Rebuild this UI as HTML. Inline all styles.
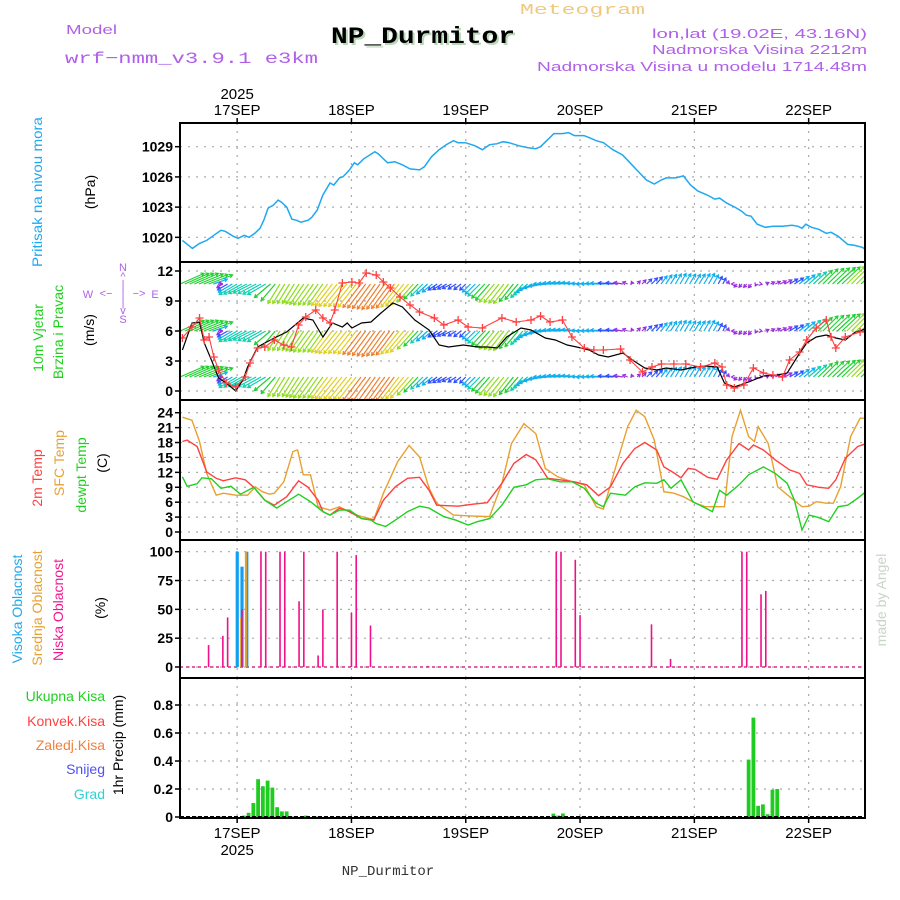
<!DOCTYPE html>
<html><head><meta charset="utf-8"><style>
html,body{margin:0;padding:0;background:#fff;}
svg{display:block;font-family:"Liberation Sans",sans-serif;}
</style></head><body>
<svg id="chart" width="900" height="900" viewBox="0 0 900 900" xmlns="http://www.w3.org/2000/svg">
<g>
<text x="520" y="14" font-size="15" fill="#f0c880" textLength="125" lengthAdjust="spacingAndGlyphs" font-family="Liberation Mono, monospace">Meteogram</text>
<text x="66" y="34" font-size="13" fill="#b060e8" textLength="51" lengthAdjust="spacingAndGlyphs">Model</text>
<text x="65" y="63" font-size="16" fill="#b060e8" textLength="253" lengthAdjust="spacingAndGlyphs" font-family="Liberation Mono, monospace">wrf−nmm_v3.9.1 e3km</text>
<text x="333" y="45" font-size="23" font-weight="bold" fill="#b8d8b8" font-family="Liberation Mono, monospace" textLength="184" lengthAdjust="spacingAndGlyphs">NP_Durmitor</text>
<text x="331" y="43" font-size="23" font-weight="bold" fill="#000" font-family="Liberation Mono, monospace" textLength="184" lengthAdjust="spacingAndGlyphs">NP_Durmitor</text>
<text x="867" y="38" font-size="13" fill="#b060e8" text-anchor="end" textLength="215" lengthAdjust="spacingAndGlyphs">lon,lat (19.02E, 43.16N)</text>
<text x="867" y="54" font-size="13" fill="#b060e8" text-anchor="end" textLength="215" lengthAdjust="spacingAndGlyphs">Nadmorska Visina 2212m</text>
<text x="867" y="71" font-size="13" fill="#b060e8" text-anchor="end" textLength="330" lengthAdjust="spacingAndGlyphs">Nadmorska Visina u modelu 1714.48m</text>
</g>
<g font-size="14">
<text transform="translate(42,192) rotate(-90)" text-anchor="middle" fill="#20a8f0" textLength="150" lengthAdjust="spacingAndGlyphs">Pritisak na nivou mora</text>
<text transform="translate(95,192) rotate(-90)" text-anchor="middle" fill="#000">(hPa)</text>
<text transform="translate(43,338) rotate(-90)" text-anchor="middle" fill="#20d020">10m Vjetar</text>
<text transform="translate(63,332) rotate(-90)" text-anchor="middle" fill="#20d020">Brzina i Pravac</text>
<text transform="translate(94,330) rotate(-90)" text-anchor="middle" fill="#000">(m/s)</text>
<g fill="#b060e8" font-size="11" text-anchor="middle">
<text x="123" y="271">N</text><text x="123" y="280">^</text><text x="123" y="288">|</text>
<text x="88" y="298">W</text><text x="106" y="297">&lt;−</text><text x="123" y="297">|</text><text x="139" y="297">−&gt;</text><text x="155" y="298">E</text>
<text x="123" y="306">|</text><text x="123" y="314">v</text><text x="123" y="323">S</text>
</g>
<text transform="translate(42,478) rotate(-90)" text-anchor="middle" fill="#ff4040">2m Temp</text>
<text transform="translate(64,463) rotate(-90)" text-anchor="middle" fill="#e8a030">SFC Temp</text>
<text transform="translate(86,475) rotate(-90)" text-anchor="middle" fill="#20d020">dewpt Temp</text>
<text transform="translate(107,463) rotate(-90)" text-anchor="middle" fill="#000">(C)</text>
<text transform="translate(22,609) rotate(-90)" text-anchor="middle" fill="#20a8f0">Visoka Oblacnost</text>
<text transform="translate(42,608) rotate(-90)" text-anchor="middle" fill="#e8a030">Srednja Oblacnost</text>
<text transform="translate(63,610) rotate(-90)" text-anchor="middle" fill="#f01890">Niska Oblacnost</text>
<text transform="translate(105,608) rotate(-90)" text-anchor="middle" fill="#000">(%)</text>
<text x="105" y="701" text-anchor="end" fill="#20d020">Ukupna  Kisa</text>
<text x="105" y="726" text-anchor="end" fill="#ff4040">Konvek.Kisa</text>
<text x="105" y="750" text-anchor="end" fill="#f08040">Zaledj.Kisa</text>
<text x="105" y="774" text-anchor="end" fill="#5050f0">Snijeg</text>
<text x="105" y="799" text-anchor="end" fill="#30d0d0">Grad</text>
<text transform="translate(123,745) rotate(-90)" text-anchor="middle" fill="#000">1hr Precip (mm)</text>
</g>
<text transform="translate(886,600) rotate(-90)" text-anchor="middle" font-size="14" fill="#c8d4c8">made by Angel</text>
<text x="388" y="875" text-anchor="middle" font-size="14" fill="#333" font-family="Liberation Mono, monospace">NP_Durmitor</text>
<g id="plot"></g>
</svg>
<script>
// time in hours since 16SEP 12UTC
const dayLabels = ["17SEP","18SEP","19SEP","20SEP","21SEP","22SEP"];
const dayHours = [12,36,60,84,108,132];
const pressTicks = [1020,1023,1026,1029];
const windTicks = [0,3,6,9,12];
const tempTicks = [0,3,6,9,12,15,18,21,24];
const cloudTicks = [0,25,50,75,100];
const precipTicks = [0,0.2,0.4,0.6,0.8];

const pressHours = [0.5,2.6,4.1,5.6,7.1,8.6,9.5,11.2,12.2,13.5,14.5,15.7,16.8,17.6,18.5,19.6,20.6,21.3,22.4,23.5,24.4,25.4,26.9,27.7,28.8,30,31.5,32.3,33.5,34.2,35.6,36.6,37.3,38.6,40.9,41.6,43.6,45.1,46.7,48.3,50.3,51.3,52.8,54.4,55.9,57.4,58.4,59.9,61.9,63.5,65,66.6,67.8,69.1,71.1,73.1,74.7,75.7,77.2,78.5,80.3,81.6,82.8,84.8,85.9,87.4,88.9,90.9,92.9,93.9,95.9,97.9,99.6,101.1,102.1,104.1,105.7,107.2,108.7,110.7,112.3,113.3,114.8,116.5,117.9,118.9,119.9,121.2,122.9,124.5,126.5,128.5,129.8,130.6,131.4,132.6,134.1,135.7,136.7,138.2,140.2,141.7,143.3,144.8];
const pressVals = [1019.7,1018.9,1019.4,1019.7,1020.2,1020.7,1020.6,1020.1,1019.9,1020.2,1020.0,1020.4,1020.9,1021.7,1022.9,1023.2,1023.7,1023.5,1023.0,1021.8,1021.7,1021.5,1021.7,1022.0,1022.7,1024.2,1025.4,1025.2,1025.9,1026.0,1026.7,1027.4,1027.2,1027.8,1028.5,1028.3,1027.4,1027.5,1027.2,1026.8,1026.7,1027.0,1028.0,1028.7,1029.2,1029.6,1029.4,1029.4,1029.1,1028.7,1029.2,1029.3,1029.5,1029.4,1029.1,1028.9,1028.8,1029.0,1029.7,1030.3,1030.3,1030.4,1030.1,1030.1,1029.9,1029.6,1029.4,1028.7,1028.2,1027.7,1026.7,1025.7,1025.3,1025.7,1025.9,1025.9,1026.1,1025.2,1024.6,1024.2,1023.8,1023.9,1023.4,1023.0,1022.6,1022.2,1022.1,1021.3,1021.0,1021.1,1021.1,1021.2,1021.1,1020.9,1021.3,1021.0,1020.8,1020.4,1020.5,1020.1,1019.3,1019.2,1019.0,1018.5];

const t2Hours = [0.5,1.5,3.6,5.6,7.6,9.1,11.7,13.7,15.5,17.8,19.8,22.4,24.9,26.9,29,30,31.5,33.5,35.6,38.1,40.7,42.7,45.2,47.8,50.3,52.3,53.9,58.4,61.5,64.5,67.6,70.1,72.7,74.7,77.2,79.8,82.8,85.4,87.9,90.4,93,95.5,97.6,100.1,101.6,103.7,105.2,106.7,108.2,110.8,112.8,114.8,117.4,119.4,120.4,122.5,125,128,130.1,131.6,134.1,136.2,137.7,139.7,142.3,144.8];
const t2Vals = [18.2,18.5,17.2,12.1,10.8,10.3,10.9,10.5,9.0,6.4,5.4,7.1,10.3,9.0,6.4,4.1,3.4,4.8,4.1,2.7,2.4,6.4,9.1,10.8,11.0,8.4,5.4,5.2,5.6,5.9,9.8,13.8,15.6,14.5,10.8,10.5,10.1,9.5,7.3,9.1,13.8,16.8,18.0,16.5,13.1,11.9,10.9,12.8,12.6,11.0,10.6,14.5,17.8,16.5,17.5,16.5,14.5,12.5,11.8,9.5,9.0,8.8,10.5,14.8,17.2,18.0];

const sfcHours = [0.5,2.5,4.1,5.6,7.6,9.1,11.7,14.2,15.8,17.3,18.8,19.8,21.8,23.7,24.7,25.9,27.4,29,31.5,33.5,36.1,38.1,40.7,42.7,45.7,48.1,50.3,52.3,53.9,57.4,61.5,65,67.6,69.6,72.2,74.7,76.7,79.3,82.3,84.9,87.4,88.9,92,94,95.8,97.6,99.6,101.6,103.7,105.7,108.2,110.3,112.8,114.3,115.9,117.7,119.4,120.6,121.4,123.5,125.5,128,130.6,132.1,133.6,135.7,137.2,138.7,140.8,142.8,144.8];
const sfcVals = [23.1,22.5,18.2,11.8,7.4,7.8,7.4,7.4,9.1,8.1,7.6,7.8,10.1,16.2,16.5,11.5,11.5,5.1,4.4,5.1,3.8,3.1,2.5,7.8,14.1,17.4,15.1,8.8,5.8,3.4,3.2,3.1,9.8,17.8,21.8,19.8,12.8,11.1,10.1,9.5,5.1,4.6,14.8,21.2,24.5,23.2,18.5,8.1,7.8,7.1,5.8,5.1,5.1,5.1,19.2,24.5,19.2,18.2,21.2,17.8,9.1,7.1,5.1,5.2,6.1,5.8,5.8,9.1,19.2,22.9,22.9];

const dewHours = [0.5,1.5,3.6,4.6,6.6,8.6,10.7,12.7,15.5,17.8,20.3,22.4,24.9,27.4,30,31.5,33.5,35.6,38.1,40.1,41.2,43.2,45.7,47.8,50.3,52.3,55.4,57.9,60.5,62.5,65,67.6,70.1,72.7,74.7,77.2,79.8,82.3,84.9,87.4,88.9,90.4,93.5,95.5,97.6,100.1,101.6,103.1,105.2,107.7,109.8,111.8,113.3,114.8,117.4,119.4,122.5,125,127.5,129,130.6,132.1,134.1,136.2,138.2,140.2,142.3,144.3];
const dewVals = [11.1,9.2,9.7,10.9,10.7,8.8,9.2,7.6,9.0,6.4,4.8,6.1,7.6,6.1,4.1,3.4,4.4,4.4,2.7,2.4,1.7,1.1,2.7,4.1,5.2,4.8,3.1,2.4,1.4,2.1,2.7,5.4,9.0,9.5,10.5,10.7,10.1,10.1,8.8,5.8,5.1,7.8,7.4,9.1,9.9,9.8,10.5,8.8,10.5,6.1,5.1,4.1,8.4,7.4,9.5,11.5,13.1,11.8,9.8,6.4,0.4,3.4,2.9,2.1,5.1,5.4,6.8,8.3];

const wsHours = [0.5,2.5,4.1,5.1,6.6,8.1,9.7,11.7,13.2,14.2,16.3,17.8,19.8,22.4,25.9,27.9,30,32,34.1,35.1,36.1,38.1,40.1,42.2,44.7,46.7,49.3,52.3,54.4,56.4,59.5,62.5,64.5,66.6,68.6,71.6,73.7,76.7,78.8,81.3,83.3,85.9,87.9,89.9,93,95,97.6,100.1,102.1,105.2,108.2,110.3,112.8,114.3,116.4,119.4,122.5,125.5,127.5,129.6,131.6,133.6,135.7,137.7,139.7,141.8,144.8];
const wsVals = [4.1,6.8,6.9,4.8,3.1,1.3,0.8,0.0,1.1,2.4,4.4,4.8,5.3,5.9,7.3,7.1,5.4,6.8,6.4,6.8,6.3,6.8,6.9,7.8,8.8,8.4,7.1,6.1,4.6,4.4,4.6,4.4,4.4,4.3,5.4,6.3,6.1,5.3,5.1,4.6,4.4,4.1,3.6,3.4,3.8,3.1,2.3,2.1,2.3,2.1,2.4,2.5,2.4,0.8,0.4,0.9,1.5,1.6,1.8,3.4,4.8,5.4,5.6,5.3,5.1,5.9,6.3];

const gustHours = [0.5,2.5,4.1,5.1,6.1,7.1,8.1,9.7,11.7,13.7,14.7,16.3,17.8,19.8,21.8,23.4,24.9,26.4,28.5,30,31.5,32.5,34.1,36.1,37.6,39.1,41.2,42.7,44.2,46.2,48.3,50.3,53.4,55.4,58.4,60.5,63.5,67.6,70.6,73.7,75.7,77.7,80.3,82.3,84.9,86.9,88.9,92.5,94.5,97.1,99.1,101.1,103.7,106.2,109.3,112.3,113.8,114.8,116.4,118.4,120.4,122.5,124.5,126.5,128,130.1,131.6,133.6,135.7,136.7,137.7,139.7,142.8,144.8];
const gustVals = [5.3,6.4,7.3,5.1,5.4,3.4,2.1,0.8,0.4,1.4,2.8,4.3,4.4,5.1,4.6,4.4,6.6,7.4,8.1,7.3,6.8,8.1,10.8,10.9,10.8,11.8,11.6,10.9,10.3,9.4,8.6,7.9,7.3,6.6,7.1,6.4,6.3,7.3,6.9,7.1,7.5,6.9,7.1,5.4,4.3,4.1,4.1,4.2,3.1,1.9,2.4,2.7,2.7,2.7,2.4,2.8,2.4,0.6,0.3,0.6,2.3,1.8,1.6,1.4,3.1,3.9,5.1,6.3,7.1,5.4,4.3,5.4,5.9,6.1];

// wind vectors, every 3 hours from hour 0 (m/s, u east, v north)
const windU = [4,4,4,-1,-3,-3,-3,-2,-2,-2.5,-2.5,-3,-3,-3,-3,-3,-3,-2,-1.5,-1.5,-1,-2,-2.5,-2.5,-2,-3,-3,-3,-3,-3,-3,-1.5,0.5,1,1,1,1,1,0.5,-0.5,-0.5,0.5,1,1.5,2,2.5,3,3,3];
const windV = [3.5,3.5,3,-1.2,-3.5,-3,-3.5,-6.5,-6.5,-7,-7,-7.5,-7.5,-8,-8.5,-8,-7,-4,-2,-1.5,-2,-4,-6,-6.5,-4.5,-2,0,0.5,0.5,0,0.3,0.5,1,2,3,3.5,3.2,3.5,2,-1,-1.2,0.5,1,2,3.5,5,5.5,6,5.5];
const windRows = [10.7,6.0,1.4];

const lowCloudHours = [6,9,10,13,17,18,21,22,25,26,29,30,33,36,37,40,52,79,80,83,84,99,103,118,119,122,123];
const lowCloudVals = [19,27,43,50,100,100,100,100,57,100,10,50,100,47,97,36,1,100,100,93,45,37,7,100,100,63,66];
const highCloudHours = [12,13,14];
const highCloudVals = [100,87,100];
const midCloudHours = [13,14];
const midCloudVals = [43,100];

const precipHours = [13,14,15,16,17,18,19,20,21,22,26,78,79,80,119,120,121,122,123,124,125];
const precipVals = [0.01,0.03,0.1,0.27,0.22,0.26,0.21,0.07,0.04,0.04,0.01,0.024,0.01,0.025,0.41,0.71,0.08,0.09,0.02,0.195,0.2];

const NS = "http://www.w3.org/2000/svg";
const plot = document.getElementById("plot");
const L = 180, R = 865;
const X = t => L + t * 4.7625;
const yP = p => 146.7 + (1029 - p) * 10.07;
const yW = v => 391 - v * 10;
const yT = c => 532 - c * 4.97;
const yC = c => 667 - c * 1.153;
const yR = r => 817 - r * 140;
const panels = [
  {name:"pressure", top:123, bot:262, ticks:pressTicks, f:yP, fmt:v=>String(v)},
  {name:"wind", top:262, bot:400, ticks:windTicks, f:yW, fmt:v=>String(v)},
  {name:"temperature", top:400, bot:540, ticks:tempTicks, f:yT, fmt:v=>String(v)},
  {name:"cloud", top:540, bot:678, ticks:cloudTicks, f:yC, fmt:v=>String(v)},
  {name:"precip", top:678, bot:818, ticks:precipTicks, f:yR, fmt:v=>v===0?"0":v.toFixed(1)}
];
function mk(tag, attrs, parent) {
  const e = document.createElementNS(NS, tag);
  for (const k in attrs) e.setAttribute(k, attrs[k]);
  (parent || plot).appendChild(e);
  return e;
}
function linePath(hs, vs, f) {
  return hs.map((h, i) => (i ? "L" : "M") + X(h).toFixed(1) + "," + f(vs[i]).toFixed(1)).join("");
}
const defs = mk("defs", {});
panels.forEach((p, i) => {
  const cp = mk("clipPath", {id: "clip" + i}, defs);
  mk("rect", {x: L, y: p.top, width: R - L, height: p.bot - p.top}, cp);
  const g = mk("g", {});
  
  
  p.g = g;
  p.ticks.forEach(v => {
    const y = p.f(v);
    const gl = mk("line", {x1: L, x2: R, y1: y, y2: y, stroke: "#aaa", "stroke-dasharray": "2,6", "stroke-width": 1.2}, g);
    
    
    mk("line", {x1: L - 5, x2: L, y1: y, y2: y, stroke: "#000", "stroke-width": 1.5}, g);
    const tx = mk("text", {x: L - 7, y: y + 5, "text-anchor": "end", "font-size": 14, "font-weight": "bold", fill: "#000"}, g);
    
    
    tx.textContent = p.fmt(v);
  });
  dayHours.forEach(h => {
    const vl = mk("line", {x1: X(h), x2: X(h), y1: p.top, y2: p.bot, stroke: "#aaa", "stroke-dasharray": "2,6", "stroke-width": 1.2}, g);
    
    
  });
  p.data = mk("g", {"clip-path": "url(#clip" + i + ")"}, g);
});
// date labels
dayHours.forEach((h, i) => {
  const t1 = mk("text", {x: X(h), y: 115, "text-anchor": "middle", "font-size": 15, fill: "#000"});
  
  
  t1.textContent = dayLabels[i];
  const t2 = mk("text", {x: X(h), y: 838, "text-anchor": "middle", "font-size": 15, fill: "#000"});
  
  
  t2.textContent = dayLabels[i];
  mk("line", {x1: X(h), x2: X(h), y1: 118, y2: 123, stroke: "#000", "stroke-width": 1.5});
  mk("line", {x1: X(h), x2: X(h), y1: 818, y2: 823, stroke: "#000", "stroke-width": 1.5});
});
const y1 = mk("text", {x: X(12), y: 99, "text-anchor": "middle", "font-size": 15, fill: "#000"});


y1.textContent = "2025";
const y2 = mk("text", {x: X(12), y: 855, "text-anchor": "middle", "font-size": 15, fill: "#000"});


y2.textContent = "2025";

// pressure
const pl = mk("path", {d: linePath(pressHours, pressVals, yP), fill: "none", stroke: "#20a8f0", "stroke-width": 1.5}, panels[0].data);



// wind vectors
function windColor(s) {
  if (s < 1.8) return "#9a30e0";
  if (s < 2.8) return "#3050ff";
  if (s < 4) return "#10b0f0";
  if (s < 5) return "#10d0b0";
  if (s < 6.5) return "#20d030";
  if (s < 7.5) return "#90dd20";
  if (s < 8.3) return "#e0d020";
  return "#f08030";
}
const kx = 6, ky = 3;
windRows.forEach((rv, ri) => {
  const g = mk("g", {}, panels[1].data);
  
  
  for (let h = 0; h <= 144; h++) {
    const i = Math.min(Math.floor(h / 3), windU.length - 2);
    const f = (h - i * 3) / 3;
    const u = windU[i] + (windU[i + 1] - windU[i]) * f;
    const v = windV[i] + (windV[i + 1] - windV[i]) * f;
    const s = Math.hypot(u, v);
    const x0 = X(h), y0 = yW(rv);
    const x1 = x0 + u * kx, y1 = y0 - v * ky;
    const col = windColor(s);
    const ang = Math.atan2(y1 - y0, x1 - x0);
    const a1 = ang + 2.6, a2 = ang - 2.6;
    const d = "M" + x0.toFixed(1) + "," + y0.toFixed(1) + "L" + x1.toFixed(1) + "," + y1.toFixed(1) +
      "M" + (x1 + 3.5 * Math.cos(a1)).toFixed(1) + "," + (y1 + 3.5 * Math.sin(a1)).toFixed(1) + "L" + x1.toFixed(1) + "," + y1.toFixed(1) +
      "L" + (x1 + 3.5 * Math.cos(a2)).toFixed(1) + "," + (y1 + 3.5 * Math.sin(a2)).toFixed(1);
    const a = mk("path", {d: d, stroke: col, "stroke-width": 1.2, fill: "none"}, g);
    
    
  }
});
const wl = mk("path", {d: linePath(wsHours, wsVals, yW), fill: "none", stroke: "#000", "stroke-width": 1.2}, panels[1].data);


const gl2 = mk("path", {d: linePath(gustHours, gustVals, yW), fill: "none", stroke: "#ff4040", "stroke-width": 1.1}, panels[1].data);


gustHours.forEach((h, i) => {
  const x = X(h), y = yW(gustVals[i]);
  const m = mk("path", {d: "M" + (x - 4) + "," + y + "h8M" + x + "," + (y - 4) + "v8", stroke: "#ff4040", "stroke-width": 1.3}, panels[1].data);
  
  
});

// temperatures
const sl = mk("path", {d: linePath(sfcHours, sfcVals, yT), fill: "none", stroke: "#e8a030", "stroke-width": 1.4}, panels[2].data);


const tl = mk("path", {d: linePath(t2Hours, t2Vals, yT), fill: "none", stroke: "#ff4040", "stroke-width": 1.4}, panels[2].data);


const dl = mk("path", {d: linePath(dewHours, dewVals, yT), fill: "none", stroke: "#20d020", "stroke-width": 1.4}, panels[2].data);



// clouds
const cg = panels[3].data;
const cb = mk("line", {x1: L, x2: R, y1: yC(0), y2: yC(0), stroke: "#e060a0", "stroke-width": 2, "stroke-dasharray": "3,3"}, cg);


highCloudHours.forEach((h, i) => {
  const r = mk("rect", {x: X(h) - 1.5, y: yC(highCloudVals[i]), width: 3.2, height: yC(0) - yC(highCloudVals[i]), fill: "#10a0f0"}, cg);
  
  
});
midCloudHours.forEach((h, i) => {
  const r = mk("rect", {x: X(h) - 1.8, y: yC(midCloudVals[i]), width: 2, height: yC(0) - yC(midCloudVals[i]), fill: "#f0a020"}, cg);
  
  
});
lowCloudHours.forEach((h, i) => {
  const r = mk("rect", {x: X(h) - 0.8, y: yC(lowCloudVals[i]), width: 1.6, height: yC(0) - yC(lowCloudVals[i]), fill: "#f0108a"}, cg);
  
  
});

// precipitation
const rg = panels[4].data;
precipHours.forEach((h, i) => {
  const r = mk("rect", {x: X(h), y: yR(precipVals[i]), width: 3.8, height: yR(0) - yR(precipVals[i]), fill: "#20cc20"}, rg);
  
  
});
const rb = mk("line", {x1: L, x2: R, y1: yR(0), y2: yR(0), stroke: "#000", "stroke-width": 2, "stroke-dasharray": "4,2"}, rg);



// frames
panels.forEach(p => {
  const f = mk("rect", {x: L, y: p.top, width: R - L, height: p.bot - p.top, fill: "none", stroke: "#000", "stroke-width": 2}, p.g);
  
  
});
</script>
</body></html>
